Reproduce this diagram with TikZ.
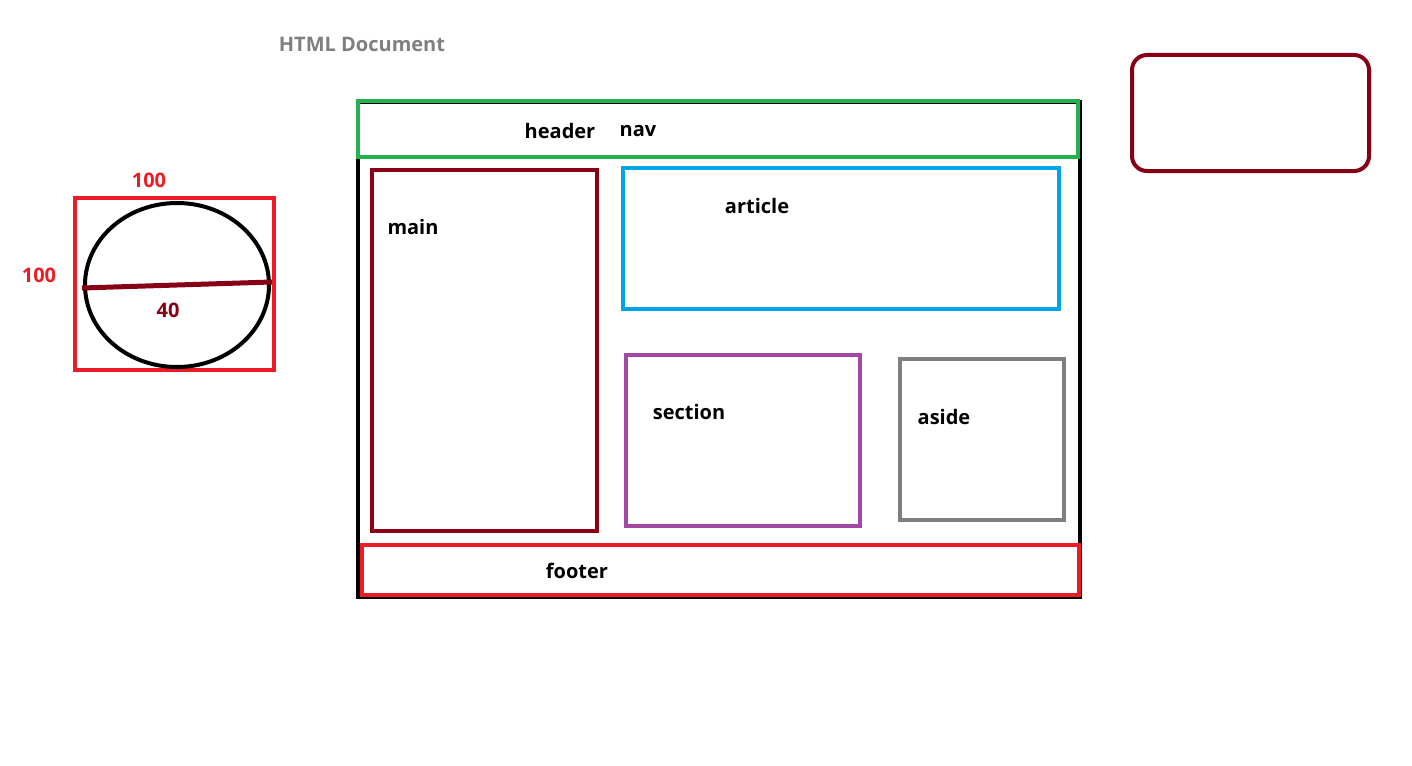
\documentclass[tikz,border=0pt]{standalone}
\usepackage{fontspec}
\setmainfont{Open Sans}
\definecolor{dred}{HTML}{880015}
\definecolor{pred}{HTML}{ED1C24}
\definecolor{pgreen}{HTML}{22B14C}
\definecolor{pblue}{HTML}{00A2E8}
\definecolor{ppurple}{HTML}{A349A4}
\definecolor{pgray}{HTML}{7F7F7F}
\begin{document}
\begin{tikzpicture}[x=1pt,y=-1pt,
  box/.style={line width=4pt},
  lbl/.style={font=\fontsize{20}{22}\selectfont\bfseries, inner sep=0pt, text=black}]
\useasboundingbox (0,0) rectangle (1412,765);
% outer document
\draw[line width=4pt, black] (358,102) rectangle (1080,597);
% header
\draw[box, pgreen] (358,101) rectangle (1078,157);
\draw[box, dred] (372,170) rectangle (597,531);
\draw[box, pblue] (623,168) rectangle (1059,309);
\draw[box, ppurple] (626,355) rectangle (860,526);
\draw[box, pgray] (900,359) rectangle (1064,520);
\draw[box, pred] (362,545) rectangle (1079,595);
% rounded box
\draw[box, dred, rounded corners=15pt] (1132,55) rectangle (1369,171);
% left figure
\draw[box, pred] (75,198) rectangle (274,370);
\draw[line width=4pt, black] (177,285) ellipse [x radius=92, y radius=82];
\coordinate (dl) at (82,288);
\coordinate (dr) at (272,282);
\draw[line width=5pt, dred] (dl) -- (dr);
% labels
\node[lbl, text=pgray] (title) at (362,44) {HTML Document};
\node[lbl] (header) at (560,131) {header};
\node[lbl] (nav) at (638,131) {nav};
\node[lbl] (main) at (413,227) {main};
\node[lbl] (article) at (757,206) {article};
\node[lbl] (section) at (689,412) {section};
\node[lbl] (aside) at (944,417) {aside};
\node[lbl] (footer) at (577,571) {footer};
\node[lbl, text=pred] (w) at (149,180) {100};
\node[lbl, text=pred] (h) at (39,275) {100};
\node[lbl, text=dred] (d) at (168,310) {40};
\end{tikzpicture}
\end{document}
